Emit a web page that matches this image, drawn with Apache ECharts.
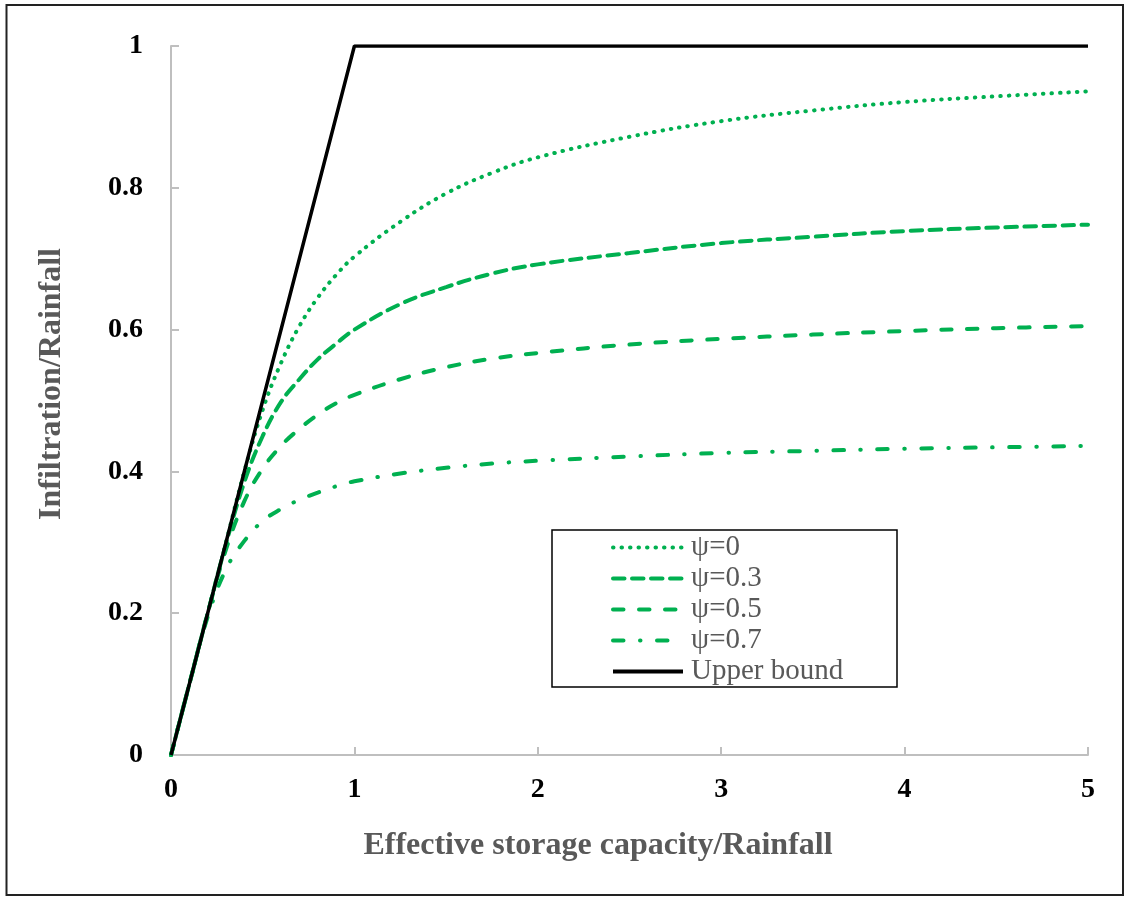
<!DOCTYPE html>
<html>
<head>
<meta charset="utf-8">
<script src="https://cdn.jsdelivr.net/npm/echarts@6/dist/echarts.min.js"></script>
<style>
html,body{margin:0;padding:0;background:#fff;}
#chart{width:1127px;height:897px;}
</style>
</head>
<body>
<div id="chart"></div>
<script>
// Data
const xValues = [0, 0.1, 0.2, 0.3, 0.4, 0.5, 0.6, 0.7, 0.8, 0.9, 1.0, 1.25, 1.5, 1.75, 2, 2.5, 3, 3.5, 4, 4.5, 5];
const psi0  = [0, 0.1, 0.2, 0.3, 0.4, 0.487, 0.553, 0.605, 0.645, 0.677, 0.703, 0.752, 0.792, 0.821, 0.843, 0.872, 0.894, 0.909, 0.921, 0.929, 0.936];
const psi03 = [0, 0.1, 0.2, 0.298, 0.385, 0.45, 0.498, 0.530, 0.558, 0.580, 0.600, 0.636, 0.660, 0.679, 0.692, 0.708, 0.722, 0.731, 0.739, 0.744, 0.748];
const psi05 = [0, 0.1, 0.2, 0.29, 0.358, 0.404, 0.436, 0.46, 0.48, 0.496, 0.508, 0.53, 0.547, 0.559, 0.567, 0.579, 0.587, 0.593, 0.598, 0.602, 0.605];
const psi07 = [0, 0.1, 0.195, 0.262, 0.302, 0.33, 0.347, 0.36, 0.37, 0.379, 0.386, 0.397, 0.405, 0.411, 0.415, 0.421, 0.426, 0.429, 0.432, 0.434, 0.436];
const upperX = [0, 1, 5];
const upperY = [0, 1, 1];
const seriesNames = ['\u03c8=0', '\u03c8=0.3', '\u03c8=0.5', '\u03c8=0.7', 'Upper bound'];
const xTitle = 'Effective storage capacity/Rainfall';
const yTitle = 'Infiltration/Rainfall';

const green = '#00B050';
const pair = (xs, ys) => xs.map((x, i) => [x, ys[i]]);
const serif = '"Liberation Serif", "DejaVu Serif", serif';

function greenSeries(name, ys, dash) {
  return {
    name: name, type: 'line', data: pair(xValues, ys),
    smooth: 0.4, symbol: 'none',
    lineStyle: { color: green, width: 4, type: dash, cap: 'round' },
    itemStyle: { color: green }
  };
}

const chart = echarts.init(document.getElementById('chart'), null, { renderer: 'canvas' });
chart.setOption({
  backgroundColor: '#fff',
  animation: false,
  grid: { left: 171, top: 46, right: 39, bottom: 142 },
  xAxis: {
    type: 'value', min: 0, max: 5, interval: 1,
    axisLine: { show: true, lineStyle: { color: '#BFBFBF', width: 2 } },
    axisTick: { show: true, inside: true, length: 8, lineStyle: { color: '#BFBFBF', width: 2 } },
    splitLine: { show: false },
    axisLabel: { color: '#000', fontFamily: serif, fontWeight: 'bold', fontSize: 28, margin: 21 }
  },
  yAxis: {
    type: 'value', min: 0, max: 1, interval: 0.2,
    axisLine: { show: true, lineStyle: { color: '#BFBFBF', width: 2 } },
    axisTick: { show: true, inside: true, length: 8, lineStyle: { color: '#BFBFBF', width: 2 } },
    splitLine: { show: false },
    axisLabel: { color: '#000', fontFamily: serif, fontWeight: 'bold', fontSize: 28, margin: 28 }
  },
  legend: {
    orient: 'vertical', left: 611, top: 533,
    itemWidth: 70, itemHeight: 14, itemGap: 2,
    padding: 0,
    data: seriesNames,
    itemStyle: { opacity: 0 },
    lineStyle: { width: 4 },
    textStyle: { color: '#595959', fontFamily: serif, fontSize: 29, lineHeight: 29, padding: [0, 0, 0, 3] }
  },
  graphic: [
    { type: 'rect', shape: { x: 552, y: 530, width: 345, height: 157 },
      style: { fill: 'none', stroke: '#000', lineWidth: 1.5 }, z: 0 },
    { type: 'rect', shape: { x: 6.5, y: 5, width: 1116.5, height: 890 },
      style: { fill: 'none', stroke: '#222', lineWidth: 2 }, z: 0 },
    { type: 'text', x: 598, y: 846,
      style: { text: xTitle, fill: '#595959', font: 'bold 32px ' + serif, textAlign: 'center', textVerticalAlign: 'middle' } },
    { type: 'text', x: 52, y: 384, rotation: Math.PI / 2,
      style: { text: yTitle, fill: '#595959', font: 'bold 32px ' + serif, textAlign: 'center', textVerticalAlign: 'middle' } }
  ],
  series: [
    greenSeries(seriesNames[0], psi0, [0.5, 8]),
    greenSeries(seriesNames[1], psi03, [11.5, 7.5]),
    greenSeries(seriesNames[2], psi05, [10.5, 15.5]),
    greenSeries(seriesNames[3], psi07, [10.5, 16.5, 0.5, 16.5]),
    {
      name: seriesNames[4], type: 'line', data: pair(upperX, upperY), symbol: 'none',
      lineStyle: { color: '#000', width: 3.5, type: 'solid' }, itemStyle: { color: '#000' }, z: 3
    }
  ]
});
</script>
</body>
</html>
